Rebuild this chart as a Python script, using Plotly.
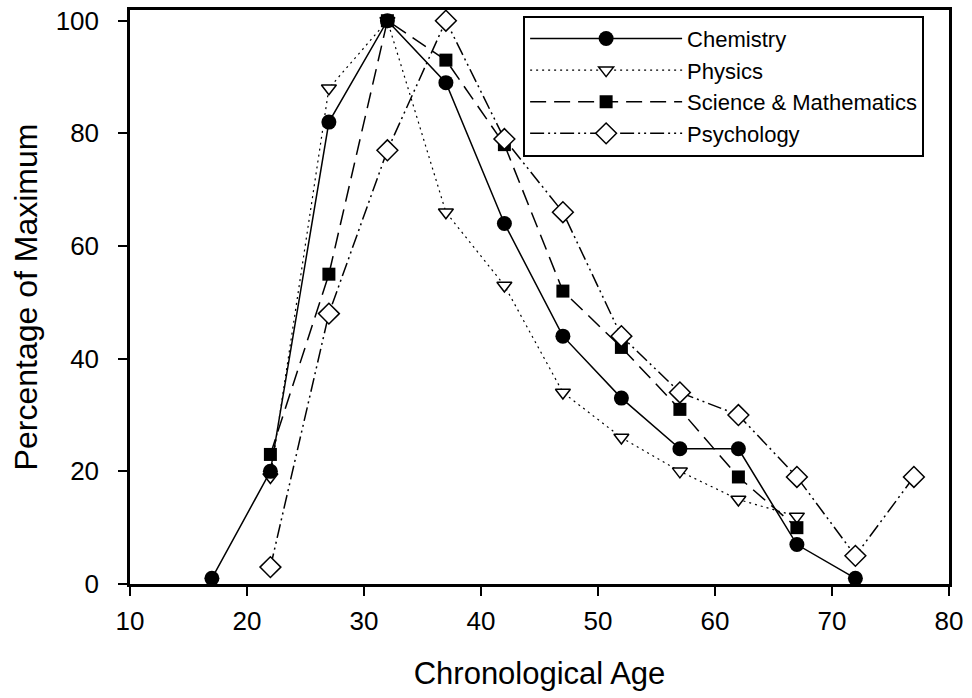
import plotly.graph_objects as go

chem_x = [17, 22, 27, 32, 37, 42, 47, 52, 57, 62, 67, 72]
chem_y = [1, 20, 82, 100, 89, 64, 44, 33, 24, 24, 7, 1]
phys_x = [22, 27, 32, 37, 42, 47, 52, 57, 62, 67]
phys_y = [19, 88, 100, 66, 53, 34, 26, 20, 15, 12]
sci_x = [22, 27, 32, 37, 42, 47, 52, 57, 62, 67]
sci_y = [23, 55, 100, 93, 78, 52, 42, 31, 19, 10]
psy_x = [22, 27, 32, 37, 42, 47, 52, 57, 62, 67, 72, 77]
psy_y = [3, 48, 77, 100, 79, 66, 44, 34, 30, 19, 5, 19]

x_ticks = [10, 20, 30, 40, 50, 60, 70, 80]
y_ticks = [0, 20, 40, 60, 80, 100]

fig = go.Figure()

fig.add_trace(go.Scatter(
    x=phys_x, y=phys_y, name="Physics", mode="lines+markers", legendrank=2,
    line=dict(color="black", width=1.2, dash="2px,4px"),
    marker=dict(symbol="triangle-down", size=13, color="white",
                line=dict(color="black", width=1.5))))
fig.add_trace(go.Scatter(
    x=chem_x, y=chem_y, name="Chemistry", mode="lines+markers", legendrank=1,
    line=dict(color="black", width=1.5),
    marker=dict(symbol="circle", size=15, color="black")))
fig.add_trace(go.Scatter(
    x=sci_x, y=sci_y, name="Science & Mathematics", mode="lines+markers", legendrank=3,
    line=dict(color="black", width=1.5, dash="16px,8px"),
    marker=dict(symbol="square", size=13, color="black")))
fig.add_trace(go.Scatter(
    x=psy_x, y=psy_y, name="Psychology", mode="lines+markers", legendrank=4,
    line=dict(color="black", width=1.5, dash="14px,4px,2px,4px,2px,4px"),
    marker=dict(symbol="diamond", size=16, color="white",
                line=dict(color="black", width=1.5))))

fig.update_layout(
    width=972, height=698,
    margin=dict(l=130, r=23, t=10, b=114, autoexpand=False),
    paper_bgcolor="white", plot_bgcolor="white",
    font=dict(family="Liberation Sans, Arial, sans-serif", color="black", size=22),
    showlegend=True,
    legend=dict(x=0.48, y=0.99, xanchor="left", yanchor="top",
                bordercolor="black", borderwidth=2, bgcolor="white",
                font=dict(size=22), itemwidth=152, tracegroupgap=0,
                traceorder="normal"),
)
fig.update_xaxes(
    range=[10, 80], tickvals=x_ticks, ticktext=[str(v) for v in x_ticks],
    automargin=False, ticklabeloverflow="allow",
    showgrid=False, zeroline=False, showline=True, linecolor="black", linewidth=2.5,
    mirror=True, ticks="outside", ticklen=9, tickwidth=2, tickcolor="black",
    tickfont=dict(size=26), ticklabelstandoff=3,
    title=dict(text="Chronological Age", font=dict(size=31), standoff=28))
fig.update_yaxes(
    range=[0, 101.9], tickvals=y_ticks, ticktext=[str(v) for v in y_ticks],
    automargin=False, ticklabeloverflow="allow",
    showgrid=False, zeroline=False, showline=True, linecolor="black", linewidth=2.5,
    mirror=True, ticks="outside", ticklen=9, tickwidth=2, tickcolor="black",
    tickfont=dict(size=26), ticklabelstandoff=14,
    title=dict(text="Percentage of Maximum", font=dict(size=32), standoff=9))

# remove the browser's default 8px body margin so the figure fills the window
fig.write_html("out.html",
               config={"displayModeBar": False},
               post_script="document.body.style.margin='0';document.body.style.overflow='hidden';")
